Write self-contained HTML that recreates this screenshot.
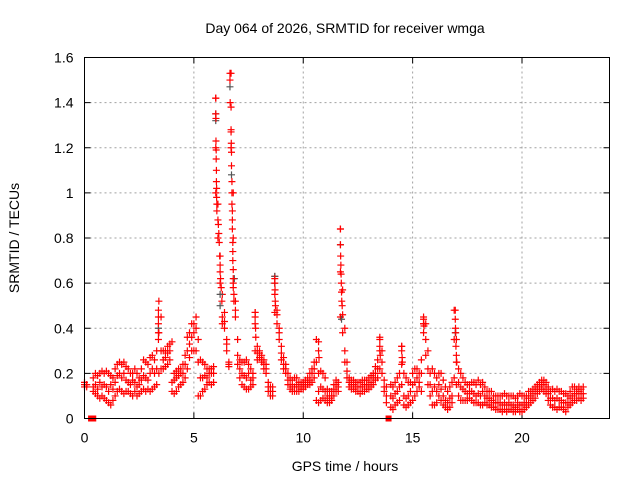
<!DOCTYPE html>
<html><head><meta charset="utf-8"><style>
body{margin:0;background:#fff}
svg text{font-family:"Liberation Sans",sans-serif;font-size:14px;fill:#000}
</style></head><body>
<svg id="chart" width="640" height="480" xmlns="http://www.w3.org/2000/svg">
<rect width="640" height="480" fill="#fff"/>
<text x="345" y="33" text-anchor="middle">Day 064 of 2026, SRMTID for receiver wmga</text>
<text x="345" y="471" text-anchor="middle">GPS time / hours</text>
<text transform="translate(19,238) rotate(-90)" text-anchor="middle">SRMTID / TECUs</text>
<g id="grid"></g><g id="ticks"></g><g id="marks"></g>
<rect x="84.5" y="57.5" width="525" height="361" fill="none" stroke="#000" stroke-width="1"/>
</svg>
<script>
const xTicks=[0,5,10,15,20];
const yTicks=[0,0.2,0.4,0.6,0.8,1,1.2,1.4,1.6];
const yTickLabels=["0","0.2","0.4","0.6","0.8","1","1.2","1.4","1.6"];
const startHour=0, stepHour=0.1;
const hiVals=[.16,.15,null,null,.18,.2,.19,.2,.21,.2,
.21,.2,.19,.18,.22,.24,.25,.24,.25,.23,
.22,.2,.2,.22,.2,.18,.22,.26,.25,.24,
.27,.28,.26,.3,.52,.45,.3,.3,.32,.33,
.34,.2,.21,.22,.22,.24,.28,.36,.38,.42,
.42,.45,.35,.26,.25,.24,.22,.22,.22,.23,
1.42,.95,.72,.55,.47,.35,.25,1.53,1.0,.52,
.35,.26,.25,.25,.26,.24,.22,.2,.47,.32,
.3,.28,.26,.24,.16,.14,.14,.63,.48,.4,
.32,.27,.24,.2,.18,.17,.18,.18,.16,.16,
.16,.17,.18,.2,.22,.25,.35,.2,.21,.2,
.18,.13,.12,.12,.15,.17,.16,.84,.57,.4,
.25,.18,.17,.17,.16,.16,.16,.17,.17,.17,
.18,.19,.2,.23,.26,.36,.3,.17,.14,null,
.15,.14,.16,.18,.2,.32,.2,.18,.16,.16,
.2,.22,.22,.2,.26,.45,.42,.3,.2,.22,
.2,.18,.2,.2,.17,.14,.12,.14,.16,.48,
.35,.22,.2,.18,.16,.15,.15,.16,.16,.15,
.17,.15,.16,.14,.12,.12,.12,.1,.1,.1,
.1,.1,.11,.1,.1,.1,.1,.09,.1,.11,
.1,.1,.1,.12,.12,.13,.14,.15,.16,.17,
.17,.16,.14,.12,.13,.12,.13,.12,.12,.11,
.11,.1,.12,.14,.14,.13,.14,.13,.14];
const loVals=[.14,.14,null,null,.12,.11,.10,.09,.10,.09,
.08,.07,.06,.08,.10,.12,.13,.12,.11,.12,
.12,.11,.1,.12,.1,.11,.12,.13,.12,.13,
.12,.13,.14,.15,.2,.22,.22,.23,.24,.26,
.12,.11,.12,.14,.15,.16,.18,.22,.27,.3,
.3,.3,.1,.1,.12,.13,.15,.16,.15,.16,
1.0,.8,.6,.42,.4,.3,.23,1.2,.6,.45,
.24,.18,.15,.14,.13,.13,.14,.15,.3,.26,
.27,.25,.22,.2,.12,.1,.1,.47,.42,.35,
.26,.22,.2,.15,.13,.12,.12,.12,.12,.13,
.13,.14,.15,.15,.16,.18,.08,.07,.08,.09,
.08,.07,.07,.08,.1,.12,.12,.45,.38,.25,
.18,.14,.13,.13,.12,.12,.11,.12,.12,.13,
.13,.14,.15,.17,.18,.22,.2,.12,.07,null,
.05,.04,.06,.07,.08,.15,.06,.05,.06,.07,
.08,.1,.12,.14,.12,.38,.28,.15,.1,.06,
.06,.07,.1,.08,.06,.05,.04,.05,.07,.18,
.15,.1,.08,.08,.08,.08,.09,.08,.07,.07,
.07,.06,.06,.07,.06,.06,.05,.05,.04,.04,
.04,.03,.04,.03,.04,.04,.03,.03,.04,.03,
.03,.04,.05,.06,.07,.08,.09,.11,.12,.13,
.12,.11,.08,.06,.05,.05,.04,.05,.05,.04,
.03,.05,.06,.07,.08,.08,.09,.08,.09];
const midVals=[.15,.15,null,null,.14,.15,.13,.16,.14,.15,
.14,.12,.15,.13,.16,.19,.2,.18,.2,.17,
.16,.15,.17,.16,.14,.15,.17,.19,.18,.17,
.2,.22,.2,.22,.38,.3,.26,.27,.29,.3,
.16,.17,.18,.19,.2,.2,.24,.3,.33,.36,
.38,.4,.25,.18,.18,.19,.18,.2,.2,.2,
1.2,.88,.65,.45,.43,.33,.24,1.38,.8,.48,
.28,.22,.2,.19,.18,.2,.17,.18,.42,.29,
.29,.26,.24,.22,.14,.12,.12,.55,.46,.38,
.29,.24,.22,.17,.15,.14,.14,.15,.14,.14,
.15,.15,.16,.17,.2,.22,.25,.12,.14,.13,
.12,.1,.09,.1,.13,.15,.14,.65,.46,.3,
.21,.16,.15,.15,.14,.14,.14,.14,.15,.15,
.15,.16,.18,.2,.22,.3,.25,.14,.1,null,
.1,.09,.11,.12,.14,.24,.1,.09,.1,.12,
.15,.16,.18,.16,.2,.42,.35,.22,.15,.12,
.14,.12,.15,.13,.1,.08,.07,.09,.1,.35,
.25,.16,.14,.13,.12,.11,.12,.12,.11,.1,
.11,.1,.12,.1,.09,.09,.08,.07,.07,.07,
.07,.06,.07,.06,.07,.06,.06,.05,.07,.06,
.06,.07,.07,.09,.1,.11,.12,.13,.14,.15,
.15,.13,.11,.09,.09,.08,.09,.08,.08,.07,
.07,.07,.09,.1,.11,.11,.12,.11,.11];
const peakHours=[3.38,3.38,3.38,3.38,3.38,6.0,6.0,6.01,6.01,6.02,6.02,6.03,6.03,6.04,6.04,6.05,6.05,6.12,6.14,6.16,6.18,6.2,6.22,6.25,6.28,
6.65,6.65,6.66,6.7,6.7,6.71,6.72,6.72,6.74,6.74,6.74,6.76,6.76,6.76,6.78,6.78,6.78,6.8,6.8,6.8,6.83,6.83,
8.7,8.7,8.71,8.72,8.73,11.7,11.7,11.71,11.72,11.73,11.74,11.75,11.76,11.78,15.5,15.5,15.52,16.95,16.95,16.96,16.97,16.98,17.0,17.02,
13.5,13.5,13.52,14.5,14.5,14.52,14.53,10.7,10.7,10.72,7.8,7.8,7.82,7.83];
const peakVals=[.48,.45,.42,.38,.35,1.42,1.35,1.33,1.23,1.19,1.15,1.1,1.05,1.02,.98,.95,.92,.86,.82,.78,.72,.68,.62,.58,.52,
1.53,1.5,1.4,1.28,1.27,1.22,1.18,1.12,1.05,1.0,.95,.92,.88,.84,.78,.74,.7,.66,.62,.58,.55,.52,
.62,.6,.57,.52,.5,.84,.77,.72,.68,.64,.6,.56,.52,.5,.44,.42,.41,.48,.44,.4,.38,.32,.28,.25,
.35,.32,.28,.32,.3,.27,.25,.34,.3,.27,.47,.45,.4,.36];
const grayHours=[6.0,6.0,6.65,6.72,6.2,6.2,8.7,8.7,11.7,11.75,3.38,16.95,6.85];
const grayVals=[1.35,1.32,1.47,1.08,.55,.5,.63,.6,.77,.44,.4,.38,.62];
const zeroHours=[0.3,0.4,13.9];
const zeroVals=[0,0,0];

const X0=84.5,X1=609.5,Y0=418.5,Y1=57.5;
const xs=h=>X0+(h-0)/(24-0)*(X1-X0);
const ys=v=>Y0-(v-0)/(1.6-0)*(Y0-Y1);
const NS="http://www.w3.org/2000/svg";
function mk(tag,attrs,parent){const e=document.createElementNS(NS,tag);for(const k in attrs)e.setAttribute(k,attrs[k]);parent.appendChild(e);return e;}
const grid=document.getElementById('grid'),ticks=document.getElementById('ticks'),marks=document.getElementById('marks');
yTicks.forEach((v,i)=>{const y=ys(v);
 if(i>0&&i<yTicks.length-1){const g=mk('line',{x1:X0,x2:X1,y1:y,y2:y,stroke:'#a0a0a0','stroke-dasharray':'2,3'},grid);
 
 }
 mk('line',{x1:X0,x2:X0+6,y1:y,y2:y,stroke:'#000'},ticks);
 mk('line',{x1:X1-6,x2:X1,y1:y,y2:y,stroke:'#000'},ticks);
 const t=mk('text',{x:X0-11,y:y+5,'text-anchor':'end'},ticks);t.textContent=yTickLabels[i];
 
 
});
xTicks.forEach(h=>{const x=xs(h);
 if(h>0){const g=mk('line',{x1:x,x2:x,y1:Y0,y2:Y1,stroke:'#a0a0a0','stroke-dasharray':'2,3'},grid);
 
 }
 mk('line',{x1:x,x2:x,y1:Y0,y2:Y0-6,stroke:'#000'},ticks);
 mk('line',{x1:x,x2:x,y1:Y1,y2:Y1+6,stroke:'#000'},ticks);
 const t=mk('text',{x:x,y:Y0+24,'text-anchor':'middle'},ticks);t.textContent=String(h);
 
 
});
function cross(h,v,color,name){const x=xs(h),y=ys(v);
 const p=mk('path',{d:`M${x-3.5},${y}H${x+3.5}M${x},${y-3.5}V${y+3.5}`,stroke:color,'stroke-width':1.2,fill:'none'},marks);
 
 }
[loVals,midVals,hiVals].forEach(arr=>arr.forEach((v,i)=>{if(v!==null)cross(startHour+i*stepHour,v,'#ff0000','srmtid-point');}));
grayHours.forEach((h,i)=>cross(h,grayVals[i],'#555555','srmtid-point-gray'));
peakHours.forEach((h,i)=>cross(h,peakVals[i],'#ff0000','srmtid-peak-point'));
zeroHours.forEach((h,i)=>{const r=mk('rect',{x:xs(h)-3,y:ys(zeroVals[i])-3,width:6,height:6,fill:'#ff0000'},marks);
 
 });
</script>
</body></html>
